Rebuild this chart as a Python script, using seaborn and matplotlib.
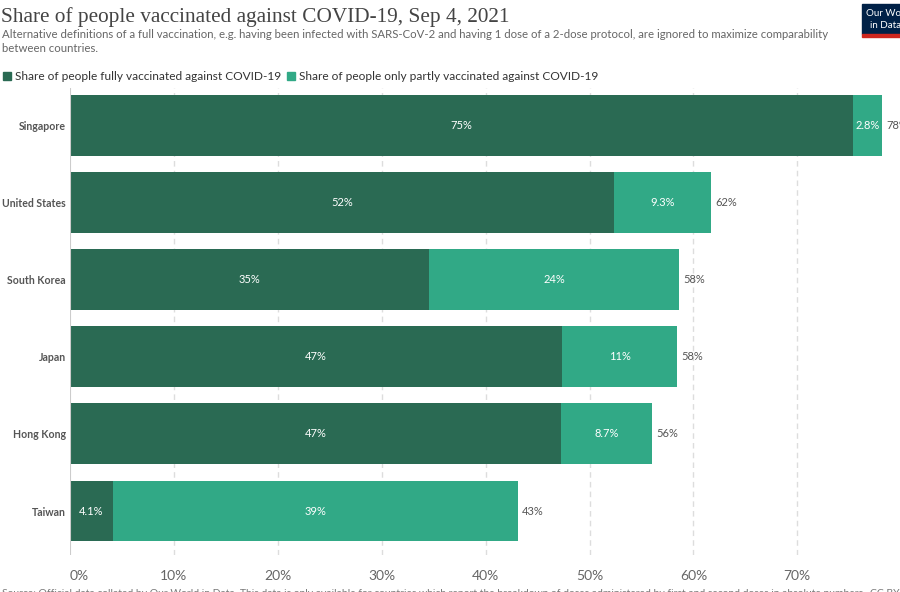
import matplotlib
matplotlib.use("Agg")
import matplotlib.pyplot as plt
import seaborn as sns
import pandas as pd
from matplotlib.patches import Rectangle

countries = ["Singapore", "United States", "South Korea", "Japan", "Hong Kong", "Taiwan"]
fully = [75.4, 52.4, 34.6, 47.4, 47.3, 4.1]
partly = [2.8, 9.3, 24.0, 11.0, 8.7, 39.0]
full_labels = ["75%", "52%", "35%", "47%", "47%", "4.1%"]
part_labels = ["2.8%", "9.3%", "24%", "11%", "8.7%", "39%"]
total_labels = ["78%", "62%", "58%", "58%", "56%", "43%"]
xticks = [0, 10, 20, 30, 40, 50, 60, 70]
xtick_labels = ["0%", "10%", "20%", "30%", "40%", "50%", "60%", "70%"]

DARK = "#2a6a53"
LIGHT = "#31a986"

sns.set_theme(style="white")
plt.rcParams["font.family"] = ["Lato", "DejaVu Sans"]

df = pd.DataFrame({"country": countries, "fully": fully, "partly": partly})
df["total"] = df["fully"] + df["partly"]

fig = plt.figure(figsize=(9, 5.92), dpi=100)
ax = fig.add_axes([70 / 900, 1 - 555 / 592, 830 / 900, (555 - 88) / 592])

sns.barplot(data=df, y="country", x="total", color=LIGHT, orient="h",
            width=0.79, ax=ax, saturation=1, linewidth=0)
sns.barplot(data=df, y="country", x="fully", color=DARK, orient="h",
            width=0.79, ax=ax, saturation=1, linewidth=0)

px_per_unit = 10.39
xmax = 830 / px_per_unit
ax.set_xlim(0, xmax)
ax.set_ylim(5.57, -0.48)

for x in xticks[1:]:
    ax.axvline(x, color="#dddddd", lw=1, ls=(0, (4, 3)), zorder=0)
ax.axvline(0, color="#cccccc", lw=1.5, zorder=3)

for i in range(len(countries)):
    f = fully[i]
    p = partly[i]
    ax.text(f / 2, i, full_labels[i], ha="center", va="center", color="white", fontsize=8)
    ax.text(f + p / 2, i, part_labels[i], ha="center", va="center", color="white", fontsize=8)
    ax.text(f + p + 0.4, i, total_labels[i], ha="left", va="center", color="#555555",
            fontsize=8, clip_on=False)

ax.set_xticks(xticks)
ax.set_xticklabels(xtick_labels, color="#666666", fontsize=10)
ax.get_xticklabels()[0].set_horizontalalignment("left")
ax.tick_params(axis="x", length=0, pad=11)
ax.tick_params(axis="y", length=0, pad=3)
for lab in ax.get_yticklabels():
    lab.set_fontweight("bold")
    lab.set_color("#555555")
    lab.set_fontsize(7.6)
ax.set_xlabel("")
ax.set_ylabel("")
for s in ax.spines.values():
    s.set_visible(False)

fig.text(1 / 900, 1 - 17 / 592, "Share of people vaccinated against COVID-19, Sep 4, 2021",
         family=["Liberation Serif", "DejaVu Serif"], fontsize=15.3, color="#444444", va="center")
fig.text(2 / 900, 1 - 35 / 592,
         "Alternative definitions of a full vaccination, e.g. having been infected with SARS-CoV-2 and having 1 dose of a 2-dose protocol, are ignored to maximize comparability",
         fontsize=8.2, color="#666666", va="center")
fig.text(2 / 900, 1 - 48 / 592, "between countries.",
         fontsize=8.2, color="#666666", va="center")

# legend
fig.patches.append(Rectangle((3 / 900, 1 - 80 / 592), 8 / 900, 8 / 592, transform=fig.transFigure,
                             color=DARK))
fig.text(15 / 900, 1 - 76 / 592, "Share of people fully vaccinated against COVID-19",
         fontsize=8.6, color="#333333", va="center")
fig.patches.append(Rectangle((287 / 900, 1 - 80 / 592), 8 / 900, 8 / 592, transform=fig.transFigure,
                             color=LIGHT))
fig.text(299 / 900, 1 - 76 / 592, "Share of people only partly vaccinated against COVID-19",
         fontsize=8.6, color="#333333", va="center")

# logo
fig.patches.append(Rectangle((862 / 900, 1 - 34 / 592), 40 / 900, 30 / 592, transform=fig.transFigure,
                             color="#002147"))
fig.patches.append(Rectangle((862 / 900, 1 - 37 / 592), 40 / 900, 3 / 592, transform=fig.transFigure,
                             color="#ce261e"))
fig.text(866 / 900, 1 - 13 / 592, "Our World", fontsize=7, color="white", va="center")
fig.text(870 / 900, 1 - 25 / 592, "in Data", fontsize=7, color="white", va="center")

fig.text(2 / 900, 1 - 593 / 592,
         "Source: Official data collated by Our World in Data. This data is only available for countries which report the breakdown of doses administered by first and second doses in absolute numbers.",
         fontsize=7.5, color="#777777", va="center")
fig.text(870 / 900, 1 - 593 / 592, "CC BY", fontsize=7.5, color="#777777", va="center")

fig.savefig("out.png", dpi=100)
